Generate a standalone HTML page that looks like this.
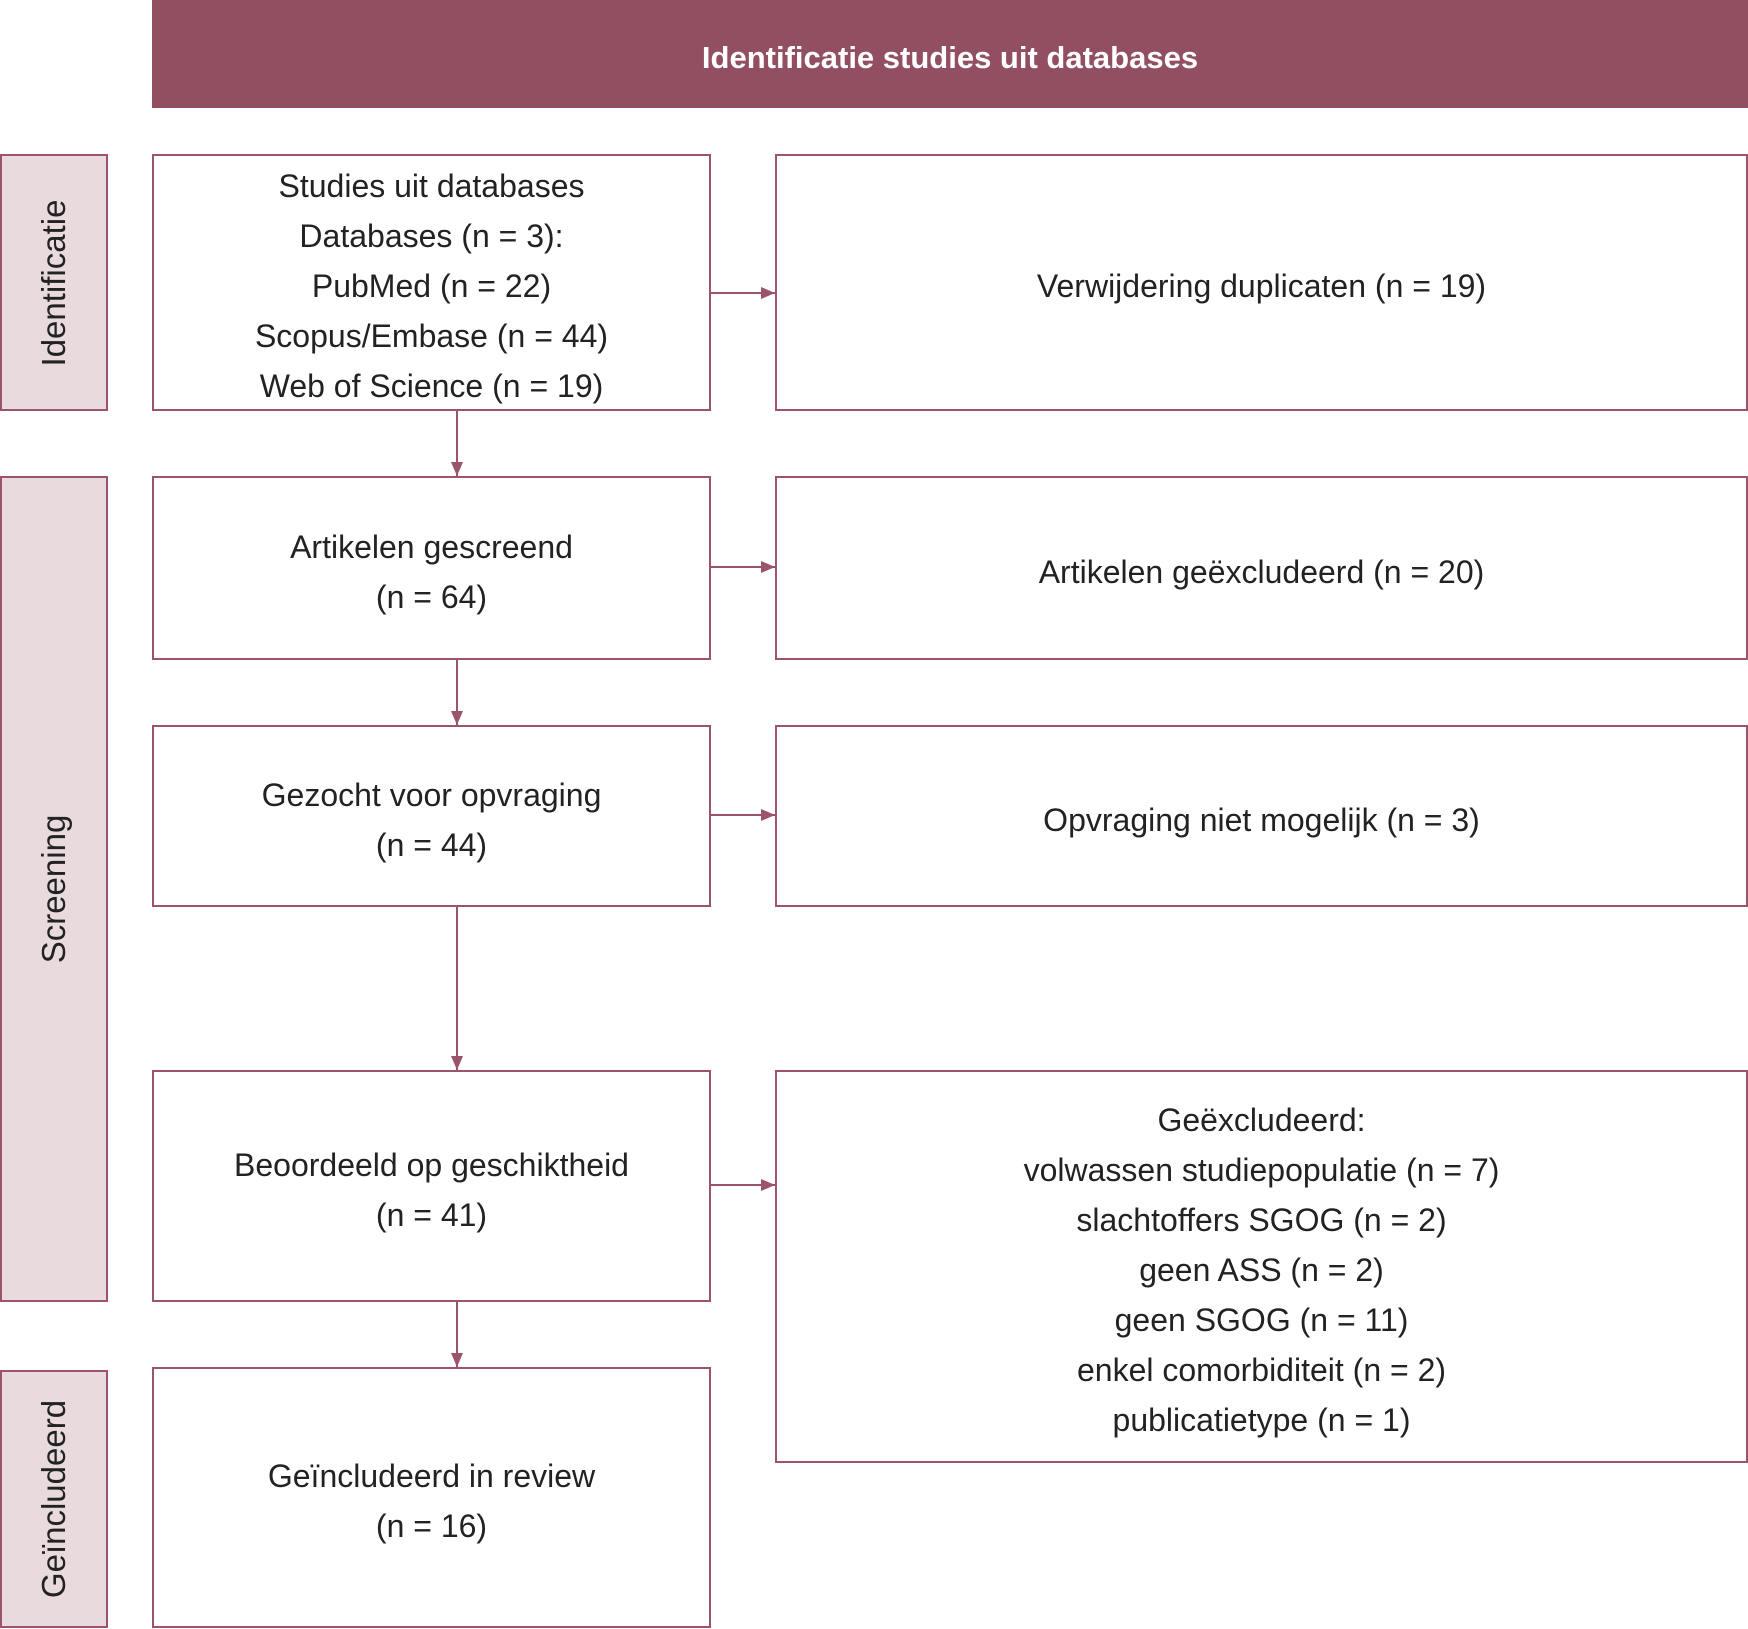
<!DOCTYPE html>
<html><head><meta charset="utf-8"><style>
body{margin:0;width:1748px;height:1629px;background:#fff;position:relative;font-family:"Liberation Sans",sans-serif;color:#222;overflow:hidden}
.b{position:absolute;box-sizing:border-box;border:2px solid #9b5469;background:#fff;display:flex;align-items:center;justify-content:center;text-align:center;font-size:32px;line-height:50px;padding-top:7px}
.s{position:absolute;box-sizing:border-box;border:2px solid #9b5469;background:#e8dadd;left:0;width:108px}
.s span{position:absolute;left:50%;top:50%;transform:translate(-50%,-50%) rotate(-90deg);font-size:33px;white-space:nowrap;color:#222}
.h{position:absolute;left:152px;top:0;width:1596px;height:108px;box-sizing:border-box;padding-top:8px;background:#934f62;color:#fff;font-weight:bold;font-size:31px;display:flex;align-items:center;justify-content:center}
svg{position:absolute;left:0;top:0}
</style></head><body>
<div class="h">Identificatie studies uit databases</div>
<div class="s" style="top:154px;height:257px"><span>Identificatie</span></div>
<div class="s" style="top:476px;height:826px"><span>Screening</span></div>
<div class="s" style="top:1370px;height:258px"><span>Geïncludeerd</span></div>

<div class="b" style="left:152px;top:154px;width:559px;height:257px">Studies uit databases<br>Databases (n = 3):<br>PubMed (n = 22)<br>Scopus/Embase (n = 44)<br>Web of Science (n = 19)</div>
<div class="b" style="left:775px;top:154px;width:973px;height:257px">Verwijdering duplicaten (n = 19)</div>
<div class="b" style="left:152px;top:476px;width:559px;height:184px">Artikelen gescreend<br>(n = 64)</div>
<div class="b" style="left:775px;top:476px;width:973px;height:184px">Artikelen geëxcludeerd (n = 20)</div>
<div class="b" style="left:152px;top:725px;width:559px;height:182px">Gezocht voor opvraging<br>(n = 44)</div>
<div class="b" style="left:775px;top:725px;width:973px;height:182px">Opvraging niet mogelijk (n = 3)</div>
<div class="b" style="left:152px;top:1070px;width:559px;height:232px">Beoordeeld op geschiktheid<br>(n = 41)</div>
<div class="b" style="left:775px;top:1070px;width:973px;height:393px">Geëxcludeerd:<br>volwassen studiepopulatie (n = 7)<br>slachtoffers SGOG (n = 2)<br>geen ASS (n = 2)<br>geen SGOG (n = 11)<br>enkel comorbiditeit (n = 2)<br>publicatietype (n = 1)</div>
<div class="b" style="left:152px;top:1367px;width:559px;height:261px">Geïncludeerd in review<br>(n = 16)</div>

<svg width="1748" height="1629">
<defs>
<marker id="m" markerWidth="14" markerHeight="12" refX="14" refY="6" orient="auto" markerUnits="userSpaceOnUse"><path d="M0,0L14,6L0,12z" fill="#9b5469"/></marker></defs>
<g stroke="#9b5469" stroke-width="2" fill="none" marker-end="url(#m)">
<line x1="457" y1="411" x2="457" y2="476"/>
<line x1="457" y1="660" x2="457" y2="725"/>
<line x1="457" y1="907" x2="457" y2="1070"/>
<line x1="457" y1="1302" x2="457" y2="1367"/>
<line x1="711" y1="293" x2="775" y2="293"/>
<line x1="711" y1="567" x2="775" y2="567"/>
<line x1="711" y1="815" x2="775" y2="815"/>
<line x1="711" y1="1185" x2="775" y2="1185"/>
</g></svg>
</body></html>
